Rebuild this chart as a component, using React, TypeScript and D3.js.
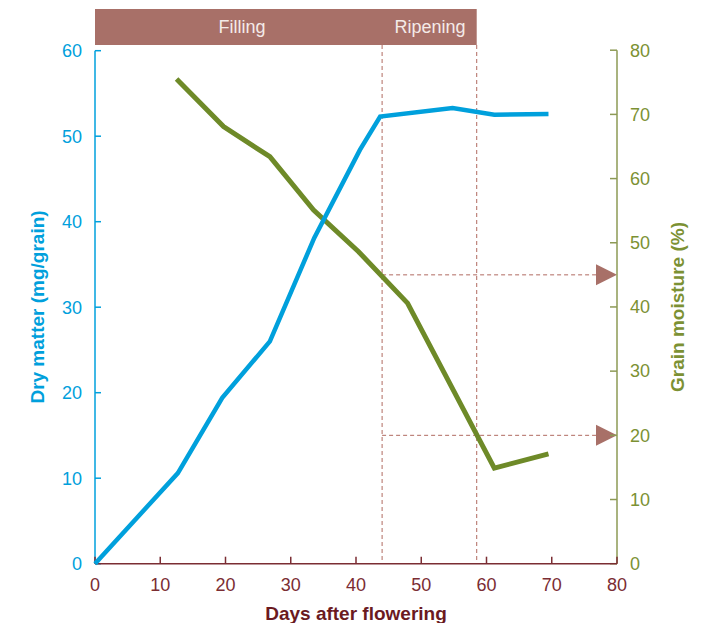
import React from "react";
import * as d3 from "d3";

const days = [0, 12.7, 19.5, 26.8, 33.6, 40.6, 43.7, 54.8, 61.2, 69.5];
const dryMatter = [0, 10.6, 19.4, 26.0, 38.1, 48.4, 52.3, 53.3, 52.5, 52.6];
const moistureDays = [12.5, 19.7, 26.8, 33.5, 40.4, 47.9, 61.2, 69.5];
const moisture = [75.5, 68.1, 63.4, 55.1, 48.6, 40.6, 14.9, 17.1];
const xTicks = [0, 10, 20, 30, 40, 50, 60, 70, 80];
const leftTicks = [0, 10, 20, 30, 40, 50, 60];
const rightTicks = [0, 10, 20, 30, 40, 50, 60, 70, 80];
const phases = [
  { name: "Filling", start: 0, end: 44 },
  { name: "Ripening", start: 44, end: 58.5 },
];
const markers = [
  { day: 44, moisture: 45 },
  { day: 44, moisture: 20 },
];

const BLUE = "#00a0dc";
const GREEN = "#6e8a28";
const OLIVE_AXIS = "#8d9a55";
const OLIVE_TEXT = "#7c9133";
const RED_AXIS = "#7b2d33";
const RED_TEXT = "#6b1a1f";
const BAND = "#a87068";
const DASH = "#b06a60";

export default function App() {
  const x = d3.scaleLinear().domain([0, 80]).range([95, 617]);
  const yL = d3.scaleLinear().domain([0, 60]).range([563.7, 50.7]);
  const yR = d3.scaleLinear().domain([0, 80]).range([563.7, 50.2]);

  const blueLine = d3
    .line<number>()
    .x((_, i) => x(days[i]))
    .y((d) => yL(d))(dryMatter) as string;
  const greenLine = d3
    .line<number>()
    .x((_, i) => x(moistureDays[i]))
    .y((d) => yR(d))(moisture) as string;

  const tickFont = "'Liberation Sans', Arial, sans-serif";
  const titleFont = "'Liberation Sans Narrow', 'Liberation Sans', Arial, sans-serif";

  return (
    <div style={{ position: "absolute", left: 0, top: 0 }}>
      <svg width={704} height={623} style={{ display: "block" }}>
        {/* phase band */}
        <rect x={x(0)} y={9} width={x(58.5) - x(0)} height={36} fill={BAND} />
        {phases.map((p) => (
          <text
            key={p.name}
            x={p.name === "Filling" ? 242 : 430}
            y={33}
            textAnchor="middle"
            fill="#f4ebe8"
            fontFamily={tickFont}
            fontSize={18}
            fontWeight={300}
          >
            {p.name}
          </text>
        ))}

        {/* vertical phase dashed lines */}
        {[44, 58.5].map((d) => (
          <line
            key={d}
            x1={x(d)}
            x2={x(d)}
            y1={45}
            y2={563}
            stroke={DASH}
            strokeWidth={1}
            strokeDasharray="4,3"
          />
        ))}

        {/* horizontal markers with arrows */}
        {markers.map((m, i) => {
          const yy = yR(m.moisture);
          const tip = x(80);
          return (
            <g key={i}>
              <line
                x1={x(m.day)}
                x2={tip - 20}
                y1={yy}
                y2={yy}
                stroke={DASH}
                strokeWidth={1}
                strokeDasharray="4,3"
              />
              <path
                d={`M${tip - 21},${yy - 10.5}L${tip},${yy}L${tip - 21},${yy + 10.5}Z`}
                fill={BAND}
              />
            </g>
          );
        })}

        {/* left axis */}
        <line x1={x(0)} x2={x(0)} y1={yL(60)} y2={yL(0)} stroke={BLUE} strokeWidth={1.5} />
        {leftTicks.map((t) => (
          <g key={t}>
            <line x1={x(0)} x2={x(0) + 6} y1={yL(t)} y2={yL(t)} stroke={BLUE} strokeWidth={1.5} />
            <text
              x={82}
              y={yL(t)}
              dy="0.35em"
              textAnchor="end"
              fill={BLUE}
              fontFamily={tickFont}
              fontSize={18}
              fontWeight={300}
            >
              {t}
            </text>
          </g>
        ))}

        {/* right axis */}
        <line x1={x(80)} x2={x(80)} y1={yR(80)} y2={yR(0)} stroke={OLIVE_AXIS} strokeWidth={1.5} />
        {rightTicks.map((t) => (
          <g key={t}>
            <line x1={x(80) - 7} x2={x(80)} y1={yR(t)} y2={yR(t)} stroke={OLIVE_AXIS} strokeWidth={1.5} />
            <text
              x={630}
              y={yR(t)}
              dy="0.35em"
              textAnchor="start"
              fill={OLIVE_TEXT}
              fontFamily={tickFont}
              fontSize={18}
              fontWeight={300}
            >
              {t}
            </text>
          </g>
        ))}

        {/* bottom axis */}
        <line x1={x(0)} x2={x(80)} y1={yL(0)} y2={yL(0)} stroke={RED_AXIS} strokeWidth={1.5} />
        {xTicks.map((t) => (
          <g key={t}>
            <line x1={x(t)} x2={x(t)} y1={yL(0) - 7} y2={yL(0)} stroke={RED_AXIS} strokeWidth={1.5} />
            <text
              x={x(t)}
              y={585}
              dy="0.35em"
              textAnchor="middle"
              fill={RED_AXIS}
              fontFamily={tickFont}
              fontSize={18}
              fontWeight={300}
            >
              {t}
            </text>
          </g>
        ))}

        {/* data lines */}
        <path d={greenLine} fill="none" stroke={GREEN} strokeWidth={5} strokeLinejoin="miter" />
        <path d={blueLine} fill="none" stroke={BLUE} strokeWidth={4.5} strokeLinejoin="miter" />

        {/* titles */}
        <text
          x={356}
          y={620}
          textAnchor="middle"
          fill={RED_TEXT}
          fontFamily={titleFont}
          fontSize={19}
          fontWeight="bold"
        >
          Days after flowering
        </text>
        <text
          transform={`translate(44,307) rotate(-90)`}
          textAnchor="middle"
          fill={BLUE}
          fontFamily={titleFont}
          fontSize={19}
          fontWeight="bold"
        >
          Dry matter (mg/grain)
        </text>
        <text
          transform={`translate(684,307) rotate(-90)`}
          textAnchor="middle"
          fill={OLIVE_TEXT}
          fontFamily={titleFont}
          fontSize={19}
          fontWeight="bold"
        >
          Grain moisture (%)
        </text>
      </svg>
    </div>
  );
}
